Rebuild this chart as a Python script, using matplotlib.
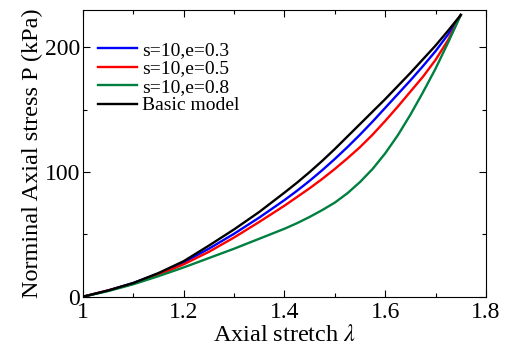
import matplotlib
matplotlib.use("Agg")
import matplotlib.pyplot as plt
from matplotlib.ticker import MultipleLocator

plt.rcParams['font.family'] = ['Liberation Serif', 'DejaVu Serif']
plt.rcParams['mathtext.fontset'] = 'stix'

stretch = [1.0, 1.05, 1.1, 1.15, 1.2, 1.25, 1.3, 1.35, 1.4, 1.425, 1.45, 1.475,
           1.5, 1.525, 1.55, 1.575, 1.6, 1.625, 1.65, 1.675, 1.7, 1.725, 1.75]
p_e03 = [0, 5, 11, 18.5, 27.5, 38.5, 50.5, 63.5, 77.5, 85, 93, 101.5,
         110.5, 120, 130, 140.5, 151.5, 162.5, 173.5, 185, 197, 210.5, 226]
p_e05 = [0, 5, 10.5, 17.5, 26, 36, 47.5, 60, 73, 80, 87, 94.5,
         102.5, 111, 120, 130, 141, 152.5, 164.5, 176.5, 190, 206, 226]
p_e08 = [0, 4.5, 10, 16.5, 23.5, 31, 38.5, 46.5, 54.5, 59, 64, 69.5,
         75.5, 83, 92, 102.5, 115, 129.5, 146, 164, 183, 204, 226]
p_basic = [0, 5, 11, 19, 28.5, 41, 54, 68, 83.5, 91.5, 100, 109,
           118.5, 128.5, 138.5, 148.5, 158.5, 169, 179.5, 190.5, 201.5, 213.5, 226]

labels = ['s=10,e=0.3', 's=10,e=0.5', 's=10,e=0.8', 'Basic model']
colors = ['#0000ff', '#ff0000', '#008040', '#000000']

fig = plt.figure(figsize=(5.11, 3.53), dpi=100)
ax = fig.add_axes([0.1624, 0.1595, 0.951 - 0.1624, 0.9717 - 0.1595])

for ys, lab, col in zip([p_e03, p_e05, p_e08, p_basic], labels, colors):
    ax.plot(stretch, ys, color=col, lw=1.7, label=lab)

ax.set_xlim(1.0, 1.8)
ax.set_ylim(0, 230)
ax.xaxis.set_minor_locator(MultipleLocator(0.1))
ax.yaxis.set_major_locator(MultipleLocator(100))
ax.yaxis.set_minor_locator(MultipleLocator(50))
ax.set_xticks([1.0, 1.2, 1.4, 1.6, 1.8])
ax.set_xticklabels(['1', '1.2', '1.4', '1.6', '1.8'])
ax.tick_params(which='both', direction='in', top=True, right=True, labelsize=17)
ax.tick_params(which='major', length=5, width=0.8)
ax.tick_params(which='minor', length=3, width=0.8)
ax.tick_params(axis='x', pad=4)
ax.tick_params(axis='y', pad=2)

ax.set_xlabel(r'Axial stretch $\lambda$', fontsize=17.5, labelpad=1)
ax.set_ylabel('Norminal Axial stress P (kPa)', fontsize=17.5, labelpad=1)

leg = ax.legend(loc='upper left', bbox_to_anchor=(0.027, 0.905), frameon=False,
                fontsize=14, handlelength=2.0, handletextpad=0.3,
                labelspacing=0.05, borderaxespad=0.1, borderpad=0.1)

fig.savefig('out.png', dpi=100)
